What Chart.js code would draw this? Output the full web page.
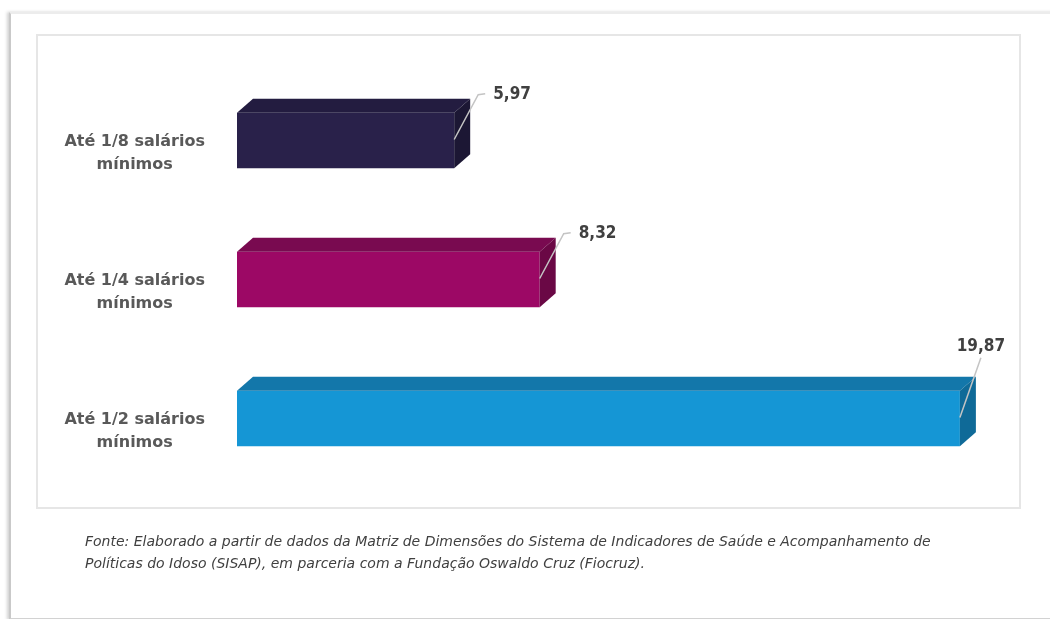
<!DOCTYPE html>
<html lang="pt-BR">
<head>
<meta charset="utf-8">
<title>Renda per capita do idoso</title>
<script src="https://cdn.jsdelivr.net/npm/chart.js@4.4.1/dist/chart.umd.min.js"></script>
<style>
  html, body { margin: 0; padding: 0; background: #fff; }
  #page { position: relative; width: 1050px; height: 619px; overflow: hidden; }
  #outer {
    position: absolute; left: 9px; top: 12px; width: 1100px; height: 604px;
    border-top: 2px solid #ececec; border-left: 2px solid #c9c9c9; border-bottom: 2px solid #d2d2d2;
    box-shadow: -2px 0 3px rgba(0, 0, 0, 0.18);
  }
  #inner {
    position: absolute; left: 36px; top: 34px; width: 981px; height: 471px;
    border: 2px solid #e6e6e6;
  }
  #wrap { position: absolute; left: 0; top: 0; width: 1050px; height: 619px; }
  #fonte {
    position: absolute; left: 85px; top: 530px; margin: 0;
    font-family: "DejaVu Sans", sans-serif;
    font-style: italic; font-size: 14px; line-height: 22px; color: #404040;
  }
</style>
</head>
<body>
<div id="page">
  <div id="outer"></div>
  <div id="inner"></div>
  <div id="wrap"><canvas id="grafico"></canvas></div>
  <p id="fonte">Fonte: Elaborado a partir de dados da Matriz de Dimensões do Sistema de Indicadores de Saúde e Acompanhamento de<br>Políticas do Idoso (SISAP), em parceria com a Fundação Oswaldo Cruz (Fiocruz).</p>
</div>
<script>
// faixas de renda domiciliar per capita e percentual de idosos
var faixas = [["Até 1/8 salários", "mínimos"], ["Até 1/4 salários", "mínimos"], ["Até 1/2 salários", "mínimos"]];
var percentuais = [5.97, 8.32, 19.87];

// cores da face frontal, do topo e da lateral de cada barra
var corFrente = ["#29214a", "#9c0865", "#1596d5"];
var corTopo = ["#231c40", "#790a50", "#1377aa"];
var corLado = ["#1c1734", "#6a0845", "#0f6a98"];

var fonteRotulo = "'DejaVu Sans Condensed', 'DejaVu Sans', sans-serif";

function formatar(v) {
    return v.toFixed(2).replace(".", ",");
}

// desenha topo e lateral das barras para o efeito 3D
var barras3d = {
    id: "barras3d",
    afterDatasetsDraw(chart, args, opts) {
        var ctx = chart.ctx;
        var meta = chart.getDatasetMeta(0);
        var dx = opts.dx, dy = opts.dy;
        meta.data.forEach(function (bar, i) {
            var p = bar.getProps(["x", "y", "base", "height"], true);
            var top = p.y - p.height / 2;
            var bottom = p.y + p.height / 2;
            ctx.save();
            ctx.fillStyle = corTopo[i];
            ctx.beginPath();
            ctx.moveTo(p.base, top);
            ctx.lineTo(p.base + dx, top + dy);
            ctx.lineTo(p.x + dx, top + dy);
            ctx.lineTo(p.x, top);
            ctx.closePath();
            ctx.fill();
            ctx.fillStyle = corLado[i];
            ctx.beginPath();
            ctx.moveTo(p.x, top);
            ctx.lineTo(p.x + dx, top + dy);
            ctx.lineTo(p.x + dx, bottom + dy);
            ctx.lineTo(p.x, bottom);
            ctx.closePath();
            ctx.fill();
            ctx.restore();
        });
    }
};

// rótulos de valor com linha de chamada
var rotulos = {
    id: "rotulos",
    afterDatasetsDraw(chart) {
        var ctx = chart.ctx;
        var meta = chart.getDatasetMeta(0);
        var data = chart.data.datasets[0].data;
        ctx.save();
        ctx.font = "bold 17px " + fonteRotulo;
        meta.data.forEach(function (bar, i) {
            var p = bar.getProps(["x", "y", "height"], true);
            var top = p.y - p.height / 2;
            var texto = formatar(data[i]);
            var w = ctx.measureText(texto).width;
            ctx.strokeStyle = "#c4c4c4";
            ctx.lineWidth = 1.5;
            ctx.fillStyle = "#404040";
            ctx.beginPath();
            ctx.moveTo(p.x, p.y - 1);
            if (p.x + 37 + w > chart.chartArea.right) {
                // sem espaço à direita: rótulo acima da barra
                ctx.lineTo(p.x + 21, top - 33);
                ctx.stroke();
                ctx.textAlign = "center";
                ctx.textBaseline = "alphabetic";
                ctx.fillText(texto, p.x + 21, top - 40);
            } else {
                ctx.lineTo(p.x + 24, top - 18);
                ctx.lineTo(p.x + 31, top - 19);
                ctx.stroke();
                ctx.textAlign = "left";
                ctx.textBaseline = "middle";
                ctx.fillText(texto, p.x + 39, top - 18);
            }
        });
        ctx.restore();
    }
};

new Chart(document.getElementById("grafico"), {
    type: "bar",
    data: {
        labels: faixas,
        datasets: [{
            data: percentuais,
            backgroundColor: corFrente,
            borderWidth: 0,
            barPercentage: 0.4,
            categoryPercentage: 1
        }]
    },
    options: {
        indexAxis: "y",
        responsive: true,
        maintainAspectRatio: false,
        animation: false,
        layout: {
            padding: { left: 0, right: 49, top: 71, bottom: 131 }
        },
        plugins: {
            legend: { display: false },
            tooltip: { enabled: false },
            barras3d: { dx: 16, dy: -14 }
        },
        scales: {
            x: {
                display: false,
                min: 0,
                max: 21
            },
            y: {
                grid: { display: false },
                border: { display: false },
                afterFit: function (scale) { scale.width = 237; },
                ticks: {
                    crossAlign: "center",
                    padding: 24,
                    labelOffset: 13,
                    color: "#595959",
                    font: { family: "'DejaVu Sans', sans-serif", size: 16, weight: "bold", lineHeight: 1.45 }
                }
            }
        }
    },
    plugins: [barras3d, rotulos]
});
</script>
</body>
</html>
